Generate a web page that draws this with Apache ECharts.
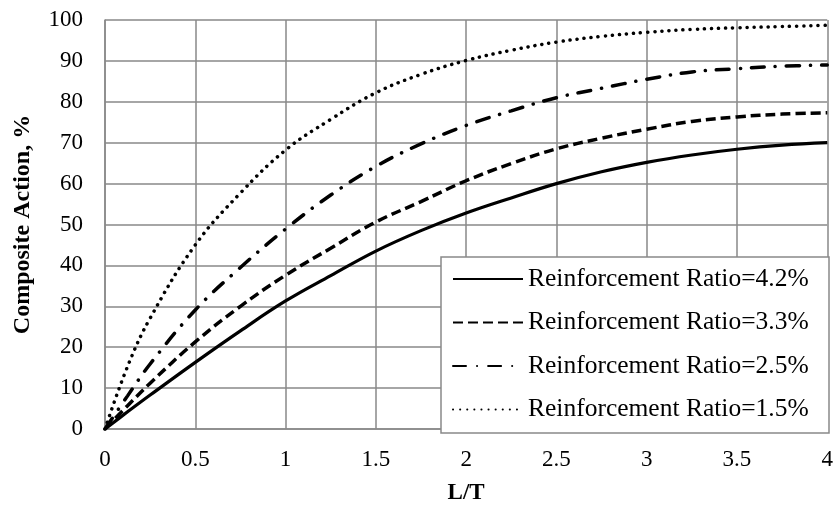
<!DOCTYPE html>
<html>
<head>
<meta charset="utf-8">
<script src="https://cdn.jsdelivr.net/npm/echarts@6/dist/echarts.min.js"></script>
<style>
html,body{margin:0;padding:0;background:#fff;}
#chart{width:836px;height:510px;}
</style>
</head>
<body>
<div id="chart"></div>
<script>
const xValues = [0, 0.125, 0.25, 0.5, 0.75, 1, 1.25, 1.5, 1.75, 2, 2.25, 2.5, 2.75, 3, 3.25, 3.5, 3.75, 4];
const ratio42 = [0, 4.2, 8.3, 16.3, 24.0, 31.3, 37.5, 43.5, 48.5, 52.8, 56.5, 60.0, 62.9, 65.2, 67.0, 68.4, 69.4, 70.0];
const ratio33 = [0, 5.7, 11.2, 21.3, 30.0, 37.6, 44.2, 50.6, 55.6, 60.7, 64.9, 68.5, 71.1, 73.3, 75.2, 76.3, 77.0, 77.3];
const ratio25 = [0, 8.1, 15.9, 29.1, 39.5, 48.9, 57.2, 64.2, 69.7, 74.2, 77.8, 81.0, 83.3, 85.5, 87.3, 88.1, 88.7, 89.0];
const ratio15 = [0, 15.3, 27.1, 45.0, 57.7, 68.2, 75.7, 82.2, 86.7, 90.1, 92.6, 94.6, 96.0, 97.0, 97.7, 98.1, 98.4, 98.7];
const seriesNames = ['Reinforcement Ratio=4.2%', 'Reinforcement Ratio=3.3%', 'Reinforcement Ratio=2.5%', 'Reinforcement Ratio=1.5%'];
const xTitle = 'L/T';
const yTitle = 'Composite Action, %';

const FONT = '"Liberation Serif", "Times New Roman", serif';
const pair = ys => xValues.map((x, i) => [x, ys[i]]);

const lineTypes = [
  { type: 'solid', width: 3.2, cap: 'butt' },
  { type: [10, 5], width: 3.5, cap: 'butt' },
  { type: [13, 11, 0.1, 11], width: 3.5, cap: 'round' },
  { type: [0.1, 7], width: 3.5, cap: 'round' }
];
const allData = [ratio42, ratio33, ratio25, ratio15];

const chart = echarts.init(document.getElementById('chart'), null, { renderer: 'canvas' });
chart.setOption({
  animation: false,
  backgroundColor: '#ffffff',
  grid: { left: 105, right: 7, top: 20, bottom: 77, containLabel: false },
  xAxis: {
    type: 'value', min: 0, max: 4, interval: 0.5,
    name: xTitle, nameLocation: 'middle', nameGap: 53,
    nameTextStyle: { fontFamily: FONT, fontSize: 23, fontWeight: 'bold', color: '#000' },
    axisLine: { show: true, lineStyle: { color: '#898989', width: 1.5 } },
    axisTick: { show: false },
    axisLabel: { fontFamily: FONT, fontSize: 23, color: '#000', margin: 19 },
    splitLine: { show: true, lineStyle: { color: '#898989', width: 1.5 } }
  },
  yAxis: {
    type: 'value', min: 0, max: 100, interval: 10,
    name: yTitle, nameLocation: 'middle', nameGap: 70, nameRotate: 90,
    nameTextStyle: { fontFamily: FONT, fontSize: 24, fontWeight: 'bold', color: '#000' },
    axisLine: { show: true, lineStyle: { color: '#898989', width: 1.5 } },
    axisTick: { show: false },
    axisLabel: { fontFamily: FONT, fontSize: 23, color: '#000', margin: 22 },
    splitLine: { show: true, lineStyle: { color: '#898989', width: 1.5 } }
  },
  graphic: [{
    type: 'rect', z: 4,
    shape: { x: 441, y: 257, width: 388, height: 176 },
    style: { fill: '#ffffff', stroke: '#898989', lineWidth: 1.5 }
  }],
  legend: {
    orient: 'vertical', left: 452, top: 266, padding: 0, z: 6,
    itemWidth: 70, itemHeight: 14, itemGap: 17.5,
    itemStyle: { opacity: 0 },
    textStyle: { fontFamily: FONT, fontSize: 25.5, color: '#000', lineHeight: 26 },
    data: seriesNames
  },
  series: allData.map((d, i) => ({
    name: seriesNames[i],
    type: 'line',
    data: pair(d),
    smooth: 0.4,
    symbol: 'none',
    z: 3,
    lineStyle: { color: '#000', width: lineTypes[i].width, type: lineTypes[i].type, cap: lineTypes[i].cap },
    itemStyle: { color: '#000' }
  }))
});
</script>
</body>
</html>
